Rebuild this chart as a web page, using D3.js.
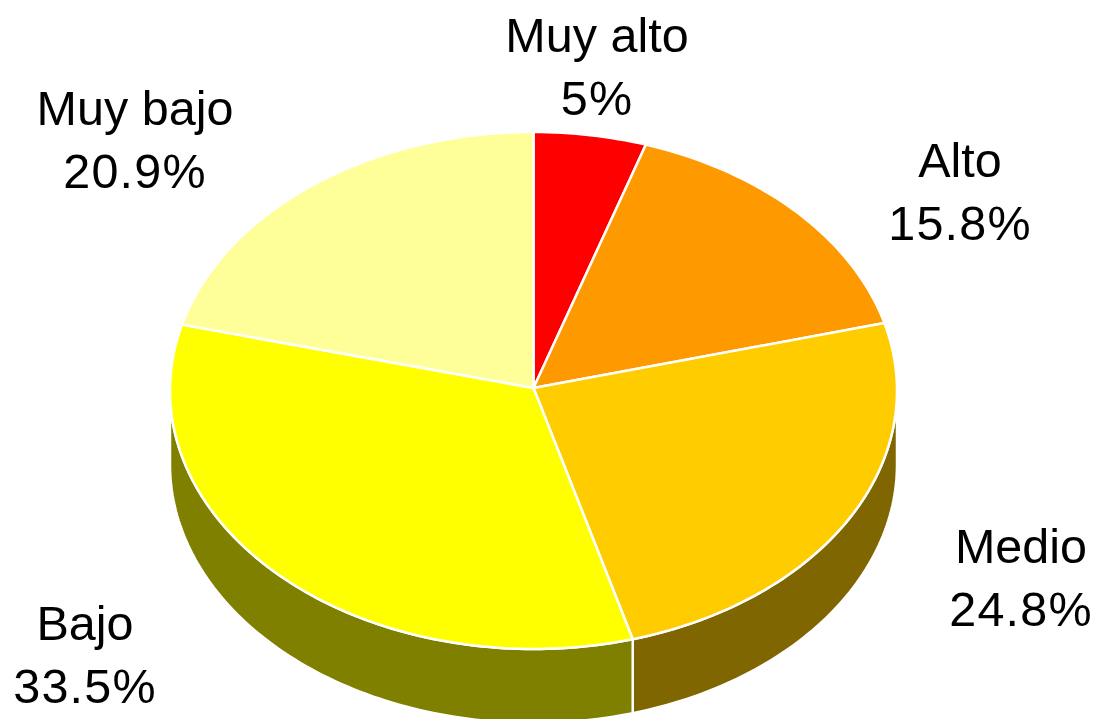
<!DOCTYPE html>
<html>
<head>
<meta charset="utf-8">
<script src="https://cdn.jsdelivr.net/npm/d3@7"></script>
<style>
    html, body { margin: 0; padding: 0; background: #fff; overflow: hidden; }
    svg { display: block; }
    text { font-family: "Liberation Sans", Arial, sans-serif; font-size: 48.5px; fill: #000; }
</style>
</head>
<body>
<svg class="pie3d" width="1098" height="719"></svg>
<script>
// clockwise from 12 o'clock
const categories = ["Muy alto", "Alto", "Medio", "Bajo", "Muy bajo"];
const values = [5, 15.8, 24.8, 33.5, 20.9];
const topColors = ["#ff0000", "#ff9900", "#ffcc00", "#ffff00", "#ffff99"];
const sideColors = ["#800000", "#804d00", "#806600", "#808000", "#80804d"];

const svg = d3.select(".pie3d");

// unit circle -> tilted ellipse on the page
const x = d3.scaleLinear().domain([-1, 1]).range([170, 897]);
const y = d3.scaleLinear().domain([-1, 1]).range([132, 649]);
const depth = 74; // height of the pie wall
const apexY = 388; // the slices meet slightly above the ellipse middle

const slices = d3.pie().sort(null)(values);

// points along the rim between two angles (0 = top, clockwise)
function rim(a0, a1, dy) {
    const steps = Math.max(2, Math.ceil((a1 - a0) / 0.02));
    return d3.range(steps + 1).map(i => {
        const a = a0 + (a1 - a0) * i / steps;
        return [x(Math.sin(a)), y(-Math.cos(a)) + dy];
    });
}

const line = d3.line();

// Walls, only the front half of the pie is visible
slices.forEach((s, i) => {
    const a0 = Math.max(s.startAngle, Math.PI / 2);
    const a1 = Math.min(s.endAngle, Math.PI * 1.5);
    if (a1 <= a0) return;
    svg.append("path")
        .attr("d", line(rim(a0, a1, 0).concat(rim(a0, a1, depth).reverse())) + "Z")
        .style("fill", sideColors[i])
        .style("stroke", "white")
        .style("stroke-width", 2.5)
        .style("stroke-linejoin", "round");
});

// Top slices
slices.forEach((s, i) => {
    const points = [[x(0), apexY]].concat(rim(s.startAngle, s.endAngle, 0));
    svg.append("path")
        .attr("d", line(points) + "Z")
        .style("fill", topColors[i])
        .style("stroke", "white")
        .style("stroke-width", 2.5)
        .style("stroke-linejoin", "round");
});

// Label placement: centre x, first baseline
const labelX = [597, 960, 1021, 85, 135];
const labelY = [52, 177, 563, 640, 125];
const lineGap = 63;

categories.forEach((name, i) => {
    const label = svg.append("text")
        .attr("text-anchor", "middle");
    label.append("tspan")
        .attr("x", labelX[i])
        .attr("y", labelY[i])
        .text(name);
    label.append("tspan")
        .attr("x", labelX[i])
        .attr("y", labelY[i] + lineGap)
        .style("letter-spacing", "1.2px")
        .text(values[i] + "%");
});
</script>
</body>
</html>
